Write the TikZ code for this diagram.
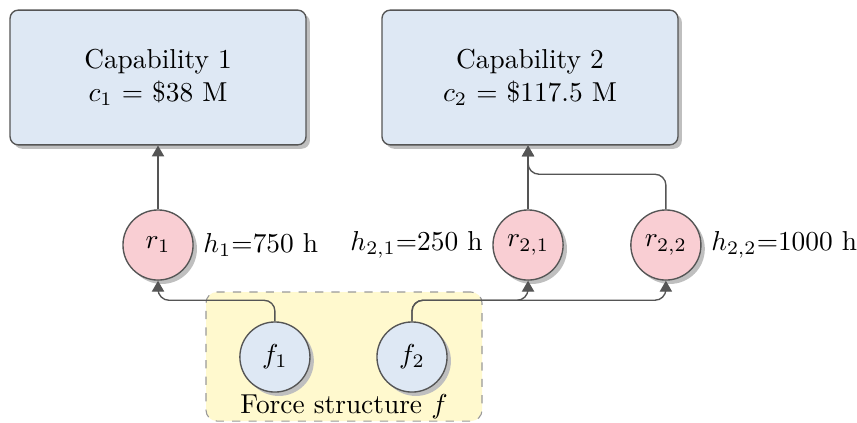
\documentclass[tikz,border=0pt]{standalone}
\usetikzlibrary{arrows.meta,shadows,calc}

\begin{document}
\begin{tikzpicture}[>={Triangle[length=4pt,width=4.5pt]},
  capbox/.style={draw=linecolor, fill=boxblue, rounded corners=3pt, line width=0.5pt,
    minimum width=3.8cm, minimum height=1.73cm, align=center,
    drop shadow={fill=black!25, opacity=1, shadow xshift=0.05cm, shadow yshift=-0.05cm}},
  resnode/.style={circle, draw=linecolor, fill=respink, line width=0.5pt,
    minimum size=0.9cm, inner sep=0pt,
    drop shadow={fill=black!25, opacity=1, shadow xshift=0.05cm, shadow yshift=-0.05cm}},
  forcenode/.style={resnode, fill=boxblue},
  forcebox/.style={draw=black!40, dashed, fill=forceyellow, rounded corners=4pt,
    minimum width=3.544cm, minimum height=1.657cm},
  conn/.style={->, draw=linecolor, line width=0.5pt, rounded corners=4pt}]

  % Colors
  \definecolor{boxblue}{HTML}{DEE8F4}
  \definecolor{respink}{HTML}{F9CED3}
  \definecolor{forceyellow}{HTML}{FFF9CE}
  \definecolor{linecolor}{HTML}{555555}

  \def\ry{-3.146} % row of the resource nodes
  \def\fy{-4.584} % row of the force nodes

  \useasboundingbox (0,0) rectangle (11.004,-5.431);

  % PART 1: Force structure
  \node[forcebox] (fs) at (4.417,-4.578) {};
  \node[anchor=south, inner sep=1pt] (fslabel) at (fs.south) {Force structure $f$};
  \node[forcenode] (f1) at (3.53,\fy) {$f_1$};
  \node[forcenode] (f2) at (5.29,\fy) {$f_2$};

  % PART 2: Capabilities
  \node[capbox] (cap1) at (2.029,-0.995) {Capability 1\\$c_1$ = \$38 M};
  \node[capbox] (cap2) at (6.805,-0.995) {Capability 2\\$c_2$ = \$117.5 M};

  % PART 3: Resources with their hours
  \node[resnode] (r1) at (2.029,\ry) {$r_1$};
  \node[resnode] (r21) at (6.78,\ry) {$r_{2,1}$};
  \node[resnode] (r22) at (8.55,\ry) {$r_{2,2}$};
  \node[right=0pt] (h1) at (r1.east) {$h_1$=750 h};
  \node[left=0pt] (h21) at (r21.west) {$h_{2,1}$=250 h};
  \node[right=0pt] (h22) at (r22.east) {$h_{2,2}$=1000 h};

  % Connectors
  \draw[conn] (f1.north) -- ++(0,0.27) -| (r1.south);
  \draw[conn] (f2.north) -- ++(0,0.27) -| (r21.south);
  \draw[conn] (f2.north) -- ++(0,0.27) -| (r22.south);
  \draw[conn] (r1.north) -- (cap1.south);
  \coordinate (j2) at ($(r21.north)+(0,0.45)$);
  \draw[conn] (r21.north) -- (r21.north |- cap2.south);
  \draw[conn] (r22.north) |- (j2) -- (r21.north |- cap2.south);

\end{tikzpicture}
\end{document}
